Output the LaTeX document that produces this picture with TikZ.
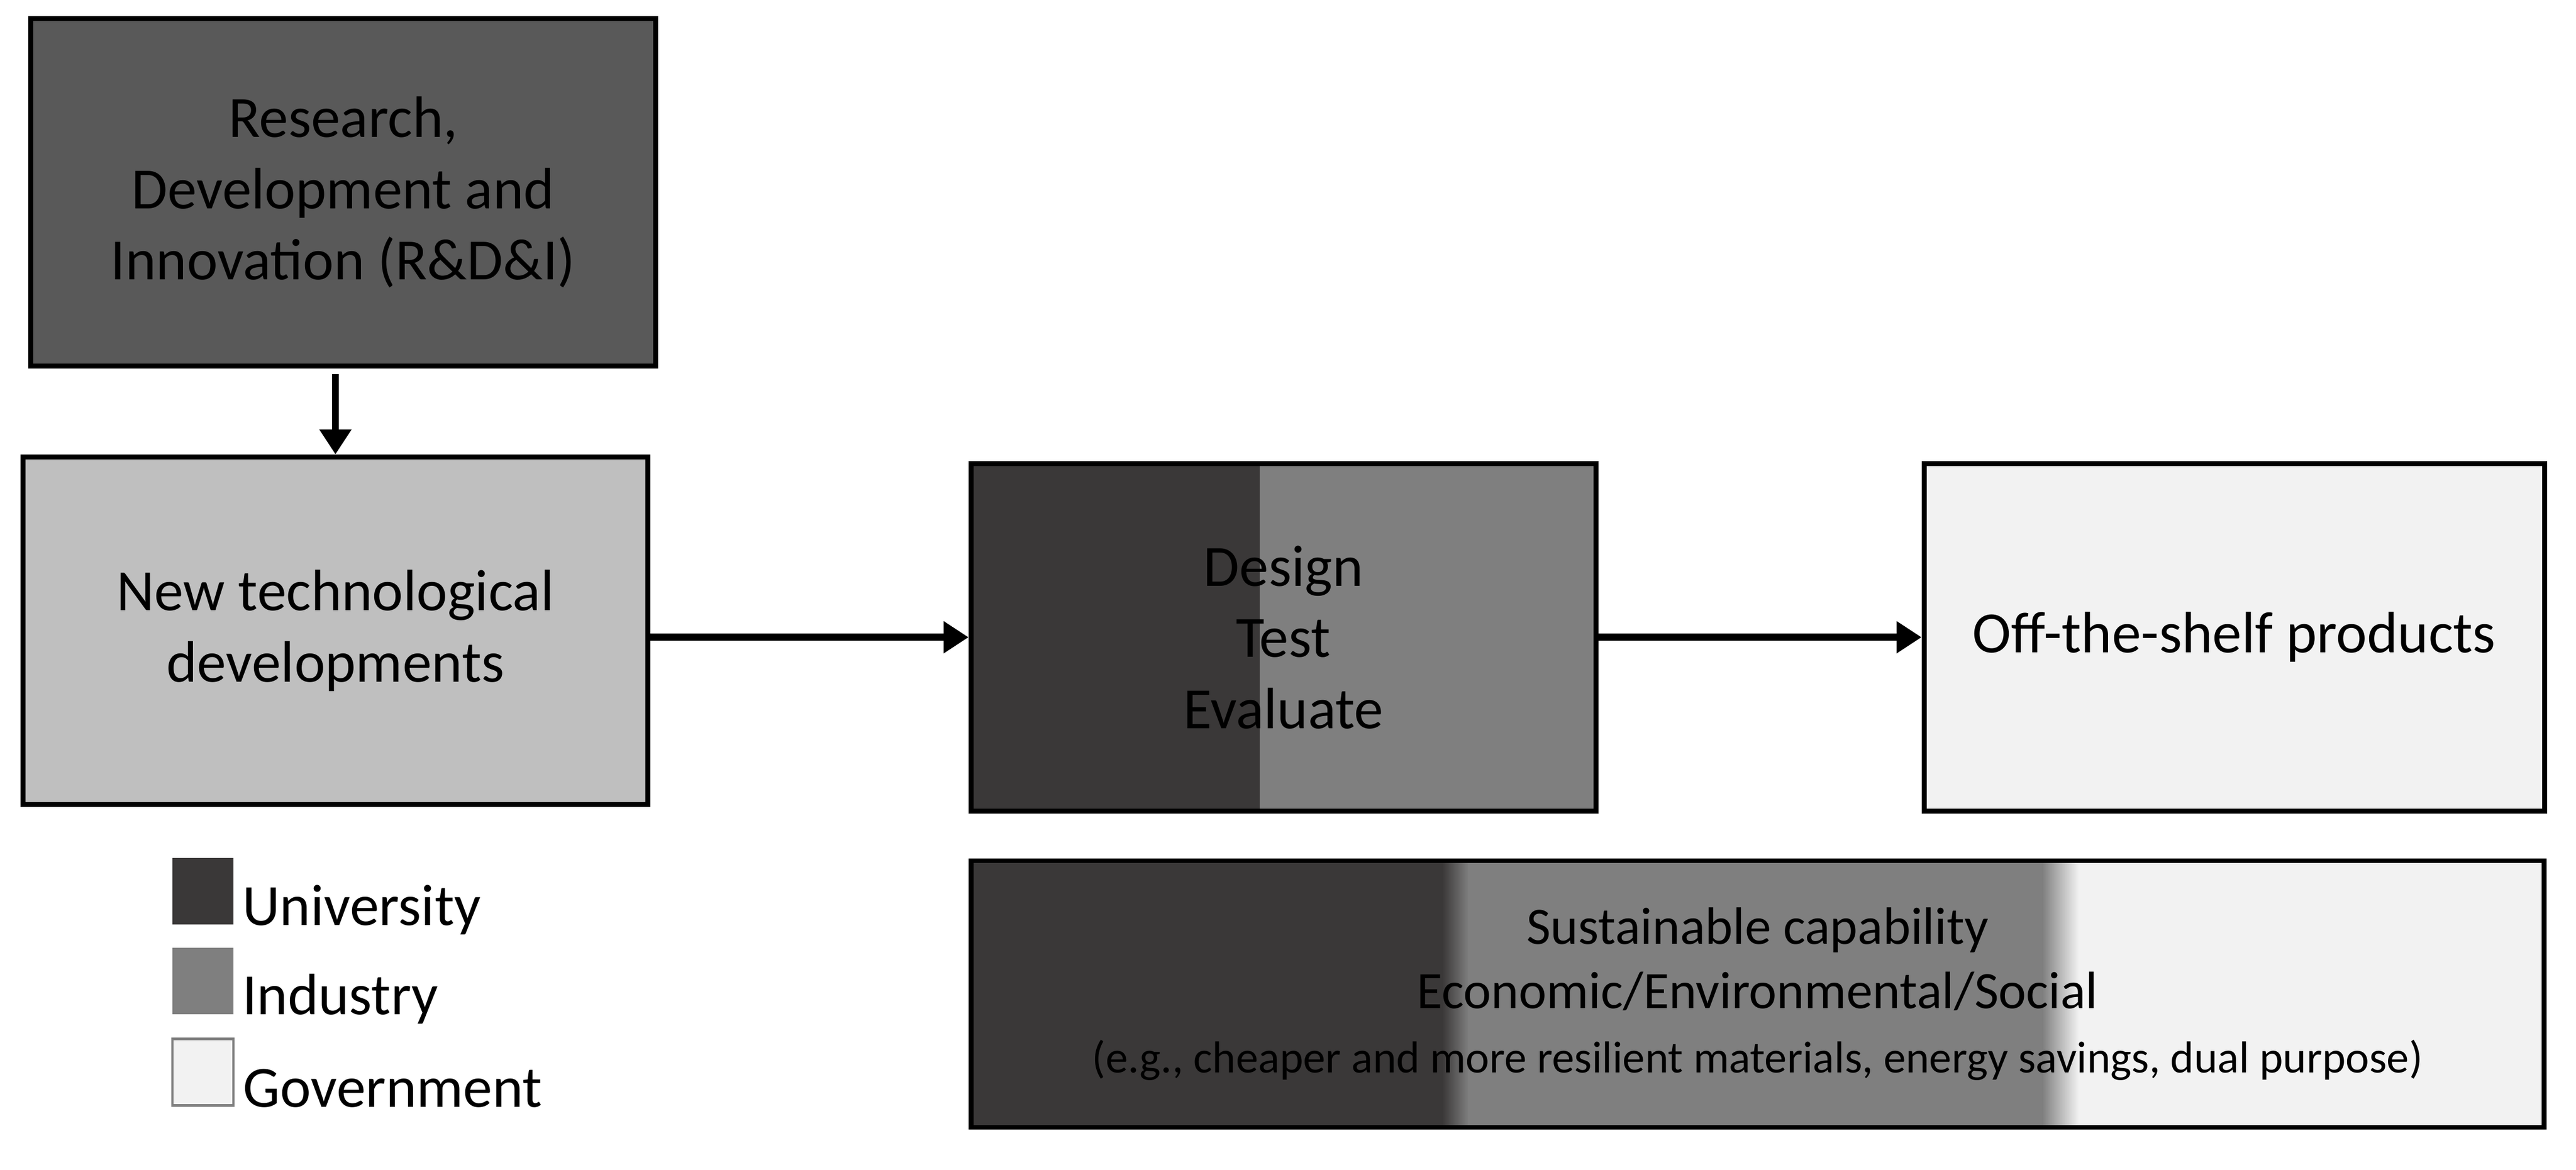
\documentclass[tikz,border=0pt]{standalone}
\usepackage{fontspec}
\setmainfont{Carlito}
\usetikzlibrary{positioning,arrows.meta}

\definecolor{univgray}{HTML}{3A3838}
\definecolor{indgray}{HTML}{7F7F7F}
\definecolor{govgray}{HTML}{F2F2F2}
\definecolor{rdgray}{HTML}{595959}
\definecolor{techgray}{HTML}{BFBFBF}

\begin{document}
\begin{tikzpicture}[
        box/.style={rectangle, draw, line width=2.5pt, minimum width=11.27cm, minimum height=6.27cm, align=center, font=\fontsize{30}{36.6}\selectfont},
        legbox/.style={rectangle, minimum width=1.1cm, minimum height=1.2cm, inner sep=0pt},
        legtext/.style={inner sep=0pt, font=\fontsize{30}{36.6}\selectfont},
        flow/.style={->, line width=3.6pt},
        >={Triangle[length=0.45cm, width=0.55cm]}
    ]
        \useasboundingbox (0,0) rectangle (46.46,-21.11);

        \node[box, fill=rdgray] (rd) at (6.19,-3.47) {Research,\\Development and\\Innovation (R\&D\&I)};
        \node[box, fill=techgray, below=1.55cm of rd, xshift=-0.14cm] (tech) {New technological\\developments};

        % shared stage: university left, industry right
        \node[box, fill=indgray, right=5.74cm of tech, yshift=-0.12cm,
            path picture={\fill[univgray] (path picture bounding box.south west) rectangle ++(5.21,7);}] (dte) {Design\\Test\\Evaluate};
        \node[box, fill=govgray, minimum width=11.19cm, right=5.83cm of dte] (shelf) {Off-the-shelf products};

        \node[box, fill=govgray, minimum width=28.37cm, minimum height=4.81cm, font=\fontsize{27}{33}\selectfont,
            below=0.81cm of dte.south west, anchor=north west,
            path picture={
                \fill[univgray] (path picture bounding box.south west) rectangle ++(8.51,6);
                \shade[left color=univgray, right color=indgray] ([xshift=8.5cm]path picture bounding box.south west) rectangle ++(0.48,6);
                \fill[indgray] ([xshift=8.97cm]path picture bounding box.south west) rectangle ++(10.36,6);
                \shade[left color=indgray, right color=govgray] ([xshift=19.32cm]path picture bounding box.south west) rectangle ++(0.66,6);
            }] (sust) {Sustainable capability\\Economic/Environmental/Social\\{\fontsize{23}{28}\selectfont (e.g., cheaper and more resilient materials, energy savings, dual purpose)}};

        % legend
        \node[legbox, fill=univgray, below=0.92cm of tech.south west, anchor=north west, xshift=2.73cm] (univ) {};
        \node[legbox, fill=indgray, below=0.4cm of univ] (ind) {};
        \node[legbox, fill=govgray, draw=indgray, line width=1.3pt, below=0.42cm of ind] (gov) {};
        \node[legtext, right=0.15cm of univ.south east, anchor=base west] (univlab) {University};
        \node[legtext, right=0.15cm of ind.south east, anchor=base west] (indlab) {Industry};
        \node[legtext, right=0.15cm of gov.south east, anchor=base west] (govlab) {Government};

        \draw[flow, shorten <=0.1cm] (rd.south -| tech.north) -- (tech.north);
        \draw[flow] (tech.east |- dte.west) -- (dte.west);
        \draw[flow] (dte) -- (shelf);
    \end{tikzpicture}
\end{document}
